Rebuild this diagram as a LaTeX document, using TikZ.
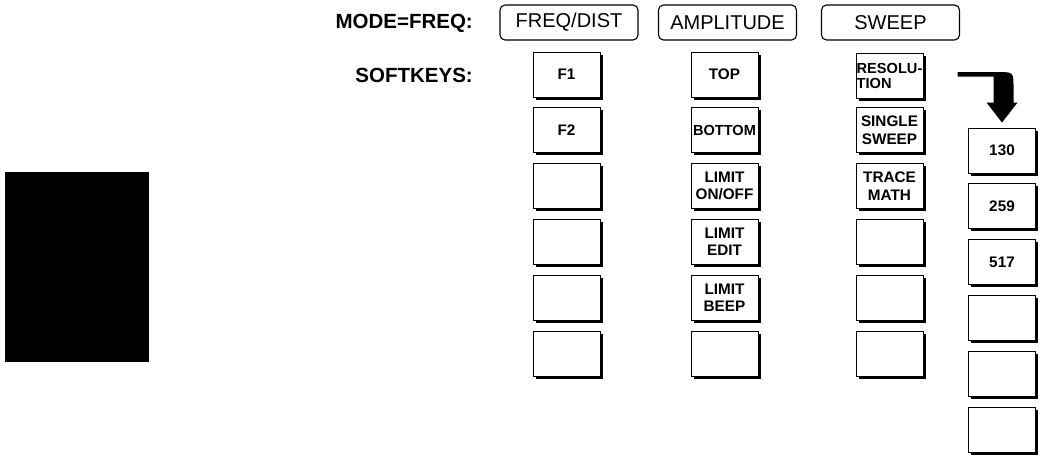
\documentclass[tikz,border=0pt]{standalone}
\usepackage{fontspec}
\setsansfont{Liberation Sans}
\usetikzlibrary{shadows}

\begin{document}
\begin{tikzpicture}[x=1pt,y=-1pt,
        mode key/.style={draw,rounded corners=5pt,line width=1.1pt,minimum width=138pt,
            minimum height=35pt,inner sep=0pt,font=\sffamily\fontsize{20}{24}\selectfont},
        soft key/.style={draw,fill=white,line width=0.9pt,minimum width=67pt,minimum height=45pt,
            inner sep=0pt,align=center,font=\sffamily\bfseries\fontsize{15.3}{17.5}\selectfont,
            drop shadow={shadow xshift=2.5pt,shadow yshift=-2.5pt,fill=black,opacity=1}},
        row label/.style={anchor=east,inner sep=0pt,font=\sffamily\bfseries\fontsize{20.5}{24}\selectfont}]

    \useasboundingbox (0,0) rectangle (1041,455);

    \fill (5,172) rectangle (149,362);

    \node[row label] (mode) at (473,23) {MODE=FREQ:};
    \node[row label] (soft) at (473,75) {SOFTKEYS:};

    \node[mode key] (freq) at (569,22.5) {FREQ/DIST};
    \node[mode key] (ampl) at (727.5,22.5) {AMPLITUDE};
    \node[mode key] (swp) at (890.5,22.5) {SWEEP};

    % FREQ/DIST keys
    \node[soft key] (f1) at (566.5,74.5) {F1};
    \node[soft key] (f2) at (566.5,130.3) {F2};
    \node[soft key] (f3) at (566.5,186.1) {};
    \node[soft key] (f4) at (566.5,241.9) {};
    \node[soft key] (f5) at (566.5,297.7) {};
    \node[soft key] (f6) at (566.5,353.5) {};

    % AMPLITUDE keys
    \node[soft key] (a1) at (724.5,74.5) {TOP};
    \node[soft key,font=\sffamily\bfseries\fontsize{14.6}{17}\selectfont] (a2) at (724.5,130.3) {BOTTOM};
    \node[soft key] (a3) at (724.5,186.1) {LIMIT\\ON/OFF};
    \node[soft key] (a4) at (724.5,241.9) {LIMIT\\EDIT};
    \node[soft key] (a5) at (724.5,297.7) {LIMIT\\BEEP};
    \node[soft key] (a6) at (724.5,353.5) {};

    % SWEEP keys
    \node[soft key,align=left,font=\sffamily\bfseries\fontsize{14.6}{15}\selectfont] (res)
        at (889.5,75.5) {RESOLU-\\TION};
    \node[soft key] (s2) at (889.5,130.3) {SINGLE\\SWEEP};
    \node[soft key] (s3) at (889.5,186.1) {TRACE\\MATH};
    \node[soft key] (s4) at (889.5,241.9) {};
    \node[soft key] (s5) at (889.5,297.7) {};
    \node[soft key] (s6) at (889.5,353.5) {};

    % RESOLUTION keys
    \node[soft key] (k130) at (1002,150.5) {130};
    \node[soft key] (k259) at (1002,206.3) {259};
    \node[soft key] (k517) at (1002,262.1) {517};
    \node[soft key] (k4) at (1002,317.9) {};
    \node[soft key] (k5) at (1002,373.7) {};
    \node[soft key] (k6) at (1002,429.5) {};

    \coordinate (arrow tip) at ([yshift=5pt]k130.north);
    \fill[shift={(arrow tip)}] (-44.5,-50.5) -- (-4.5,-50.5) .. controls (11.5,-50.5) .. (11.5,-35)
        -- (11.5,-20) -- (15.5,-20) -- (0,0) -- (-15.5,-20) -- (-8.5,-20) -- (-8.5,-46)
        -- (-44.5,-46) -- cycle;

\end{tikzpicture}
\end{document}
